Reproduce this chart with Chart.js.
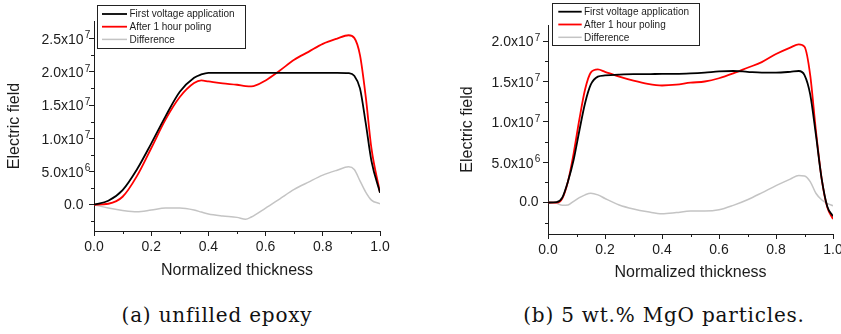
<!DOCTYPE html>
<html>
<head>
<meta charset="utf-8">
<script src="https://cdn.jsdelivr.net/npm/chart.js@4.4.1/dist/chart.umd.min.js"></script>
<style>
  body { margin: 0; background: #fff; width: 841px; height: 334px; position: relative; overflow: hidden; }
  canvas { position: absolute; top: 0; }
  .caption { position: absolute; top: 305px; font: 20px "DejaVu Serif", serif; letter-spacing: 0.8px; color: #111; text-align: center; white-space: nowrap; line-height: 20px; }
</style>
</head>
<body>
<canvas id="chartA" width="420" height="290" style="left:0"></canvas>
<canvas id="chartB" width="421" height="290" style="left:420px"></canvas>
<div class="caption" style="left:0;width:434px">(a) unfilled epoxy</div>
<div class="caption" style="left:487px;width:354px">(b) 5 wt.% MgO particles.</div>
<script>
// (a) unfilled epoxy
var xA = [0, 0.05, 0.1, 0.15, 0.2, 0.25, 0.3, 0.35, 0.375, 0.4, 0.45, 0.5, 0.53, 0.55, 0.6, 0.65, 0.7, 0.75, 0.8, 0.85, 0.89, 0.91, 0.93, 0.95, 0.97, 1.0];
var firstA = [0, 0.6e6, 2.2e6, 5.3e6, 9.2e6, 13.3e6, 17.0e6, 19.1e6, 19.6e6, 19.85e6,
  19.85e6, 19.85e6, 19.85e6, 19.85e6, 19.85e6, 19.85e6, 19.85e6, 19.85e6, 19.85e6, 19.85e6,
  19.8e6, 19.4e6, 17.5e6, 12.3e6, 6.6e6, 1.8e6];
var poledA = [0, 0.15e6, 1.2e6, 4.3e6, 8.5e6, 12.8e6, 16.2e6, 18.3e6, 18.7e6, 18.55e6,
  18.25e6, 18.05e6, 17.85e6, 17.8e6, 18.7e6, 20.2e6, 21.8e6, 23.0e6, 24.2e6, 25.0e6,
  25.5e6, 25.1e6, 22.5e6, 16.3e6, 8.5e6, 1.85e6];
var diffA = [0, -0.5e6, -0.85e6, -1.05e6, -0.8e6, -0.5e6, -0.5e6, -0.8e6, -1.1e6, -1.4e6,
  -1.7e6, -1.9e6, -2.2e6, -1.85e6, -0.5e6, 0.9e6, 2.3e6, 3.4e6, 4.45e6, 5.2e6,
  5.7e6, 5.3e6, 3.6e6, 1.9e6, 0.7e6, 0.15e6];
var yTicksA = [0, 5e6, 1e7, 1.5e7, 2e7, 2.5e7];
var yMinorA = [-2.5e6, 2.5e6, 7.5e6, 1.25e7, 1.75e7, 2.25e7];

// (b) 5 wt.% MgO
var xB = [0, 0.03, 0.05, 0.07, 0.09, 0.11, 0.13, 0.15, 0.175, 0.2,
  0.25, 0.3, 0.35, 0.4, 0.45, 0.5, 0.55, 0.6, 0.65, 0.7, 0.75, 0.8, 0.85,
  0.88, 0.9, 0.92, 0.94, 0.96, 0.98, 1.0];
var firstB = [0, 0.05e6, 0.6e6, 2.6e6, 5.3e6, 8.9e6, 12.3e6, 14.6e6, 15.6e6, 15.75e6,
  15.85e6, 15.9e6, 15.9e6, 15.95e6, 15.95e6, 16.0e6, 16.1e6, 16.25e6, 16.3e6, 16.2e6, 16.1e6, 16.1e6, 16.2e6,
  16.3e6, 15.8e6, 13.4e6, 8.4e6, 3.0e6, -0.5e6, -1.7e6];
var poledB = [0, 0, 0.5e6, 2.6e6, 6.1e6, 10.3e6, 14.0e6, 16.1e6, 16.5e6, 16.2e6,
  15.6e6, 15.1e6, 14.7e6, 14.5e6, 14.6e6, 14.85e6, 15.0e6, 15.4e6, 16.0e6, 16.7e6, 17.4e6, 18.4e6, 19.2e6,
  19.6e6, 19.3e6, 15.8e6, 8.9e6, 3.0e6, -0.6e6, -2.05e6];
var diffB = [0, -0.1e6, -0.35e6, -0.3e6, 0.15e6, 0.6e6, 0.95e6, 1.15e6, 0.95e6, 0.5e6,
  -0.3e6, -0.8e6, -1.15e6, -1.4e6, -1.25e6, -1.05e6, -1.05e6, -0.9e6, -0.35e6, 0.35e6, 1.2e6, 2.1e6, 2.9e6,
  3.35e6, 3.3e6, 2.6e6, 1.15e6, 0.35e6, -0.1e6, -0.4e6];
var yTicksB = [0, 5e6, 1e7, 1.5e7, 2e7];
var yMinorB = [-2.5e6, 2.5e6, 7.5e6, 1.25e7, 1.75e7];

var xTicks = [0, 0.2, 0.4, 0.6, 0.8, 1.0];
var xMinor = [0.1, 0.3, 0.5, 0.7, 0.9];
var seriesNames = ['First voltage application', 'After 1 hour poling', 'Difference'];

var FONT = '"Liberation Sans", Arial, sans-serif';
var INK = '#1c1c1c';

// y labels like 2.5x10^7 with a raised exponent
var sciLabels = {
  id: 'sciLabels',
  afterDraw: function(chart, args, o) {
    var ctx = chart.ctx, ys = chart.scales.y;
    var right = chart.chartArea.left - o.gap;
    ctx.save();
    ctx.fillStyle = INK;
    ctx.textBaseline = 'middle';
    ys.ticks.forEach(function(t) {
      var py = ys.getPixelForValue(t.value);
      ctx.font = '14px ' + FONT;
      ctx.textAlign = 'right';
      if (t.value === 0) {
        ctx.fillText('0.0', right + o.zeroShift, py);
        return;
      }
      var exp = Math.floor(Math.log10(Math.abs(t.value)));
      var mant = (t.value / Math.pow(10, exp)).toFixed(1);
      ctx.fillText(mant + 'x10', right, py + 1.5);
      ctx.font = '10px ' + FONT;
      ctx.textAlign = 'left';
      ctx.fillText(String(exp), right + 1.2, py - 3);
    });
    ctx.restore();
  }
};

// short unlabelled ticks between the major ones
var minorTicks = {
  id: 'minorTicks',
  afterDraw: function(chart, args, o) {
    var ctx = chart.ctx, a = chart.chartArea;
    ctx.save();
    ctx.strokeStyle = INK;
    ctx.lineWidth = 1;
    ctx.beginPath();
    o.x.forEach(function(v) {
      var px = Math.round(chart.scales.x.getPixelForValue(v)) + 0.5;
      ctx.moveTo(px, a.bottom);
      ctx.lineTo(px, a.bottom + 3);
    });
    o.y.forEach(function(v) {
      var py = Math.round(chart.scales.y.getPixelForValue(v)) + 0.5;
      ctx.moveTo(a.left - 3, py);
      ctx.lineTo(a.left, py);
    });
    ctx.stroke();
    ctx.restore();
  }
};

// framed legend inside the plot
var boxLegend = {
  id: 'boxLegend',
  afterDraw: function(chart, args, o) {
    var ctx = chart.ctx;
    ctx.save();
    ctx.fillStyle = '#fff';
    ctx.fillRect(o.left, o.top, o.width, o.height);
    ctx.strokeStyle = '#222';
    ctx.lineWidth = 1;
    ctx.strokeRect(o.left + 0.5, o.top + 0.5, o.width, o.height);
    ctx.font = '10px ' + FONT;
    ctx.textBaseline = 'middle';
    ctx.textAlign = 'left';
    chart.data.datasets.forEach(function(ds, i) {
      var yy = o.top + o.firstRow + i * o.rowH;
      ctx.strokeStyle = ds.borderColor;
      ctx.lineWidth = ds.borderWidth;
      ctx.beginPath();
      ctx.moveTo(o.left + o.lineStart, yy);
      ctx.lineTo(o.left + o.lineStart + o.lineLen, yy);
      ctx.stroke();
      ctx.fillStyle = INK;
      ctx.fillText(ds.label, o.left + o.textStart, yy + 0.5);
    });
    ctx.restore();
  }
};

function points(xs, ys) {
  return xs.map(function(x, i) { return { x: x, y: ys[i] }; });
}

function makePanel(id, xs, first, poled, diff, p) {
  var line = function(label, data, color, w) {
    return { label: label, data: points(xs, data), borderColor: color, borderWidth: w,
      pointRadius: 0, fill: false, cubicInterpolationMode: 'monotone' };
  };
  return new Chart(document.getElementById(id), {
    type: 'line',
    data: {
      datasets: [
        line(seriesNames[0], first, '#000000', 1.8),
        line(seriesNames[1], poled, '#ff0000', 1.8),
        line(seriesNames[2], diff, '#c4c4c4', 1.5)
      ]
    },
    options: {
      responsive: false,
      animation: false,
      devicePixelRatio: 1,
      layout: { padding: { left: 0, top: p.top, right: p.right, bottom: 0 } },
      scales: {
        x: {
          type: 'linear', min: 0, max: 1,
          afterBuildTicks: function(s) { s.ticks = xTicks.map(function(v) { return { value: v }; }); },
          afterFit: function(s) { s.height = p.xHeight; s.paddingLeft = 0; s.paddingRight = 0; },
          ticks: { callback: function(v) { return v.toFixed(1); }, font: { family: FONT, size: 14 },
            color: INK, padding: 3, maxRotation: 0, autoSkip: false },
          grid: { drawOnChartArea: false, tickLength: 5, color: INK },
          border: { color: INK, width: 1 },
          title: { display: true, text: 'Normalized thickness', color: INK,
            font: { family: FONT, size: 16 }, padding: { top: 0, bottom: p.xTitlePad } }
        },
        y: {
          type: 'linear', min: p.yMin, max: p.yMax,
          afterBuildTicks: function(s) { s.ticks = p.yTicks.map(function(v) { return { value: v }; }); },
          afterFit: function(s) { s.width = p.yWidth; s.paddingTop = 0; s.paddingBottom = 0; },
          ticks: { callback: function() { return ''; } },
          grid: { drawOnChartArea: false, tickLength: 5, color: INK },
          border: { color: INK, width: 1 },
          title: { display: true, text: 'Electric field', color: INK,
            font: { family: FONT, size: 16 }, padding: { top: p.yTitlePad, bottom: 0 } }
        }
      },
      plugins: {
        legend: { display: false },
        tooltip: { enabled: false },
        sciLabels: p.labels,
        minorTicks: { x: xMinor, y: p.yMinor },
        boxLegend: p.legend
      }
    },
    plugins: [minorTicks, sciLabels, boxLegend]
  });
}

makePanel('chartA', xA, firstA, poledA, diffA, {
  top: 21, right: 40, xHeight: 59, yWidth: 94, xTitlePad: 10, yTitlePad: 5,
  yMin: -3.95e6, yMax: 2.764e7, yTicks: yTicksA, yMinor: yMinorA,
  labels: { gap: 10.5, zeroShift: 0 },
  legend: { left: 97, top: 5, width: 148, height: 43, firstRow: 9, rowH: 12.7, lineStart: 5, lineLen: 25, textStart: 32.5 }
});

makePanel('chartB', xB, firstB, poledB, diffB, {
  top: 25, right: 8, xHeight: 56, yWidth: 128, xTitlePad: 8, yTitlePad: 38,
  yMin: -3.9e6, yMax: 2.2e7, yTicks: yTicksB, yMinor: yMinorB,
  labels: { gap: 14.4, zeroShift: 5 },
  legend: { left: 132, top: 3, width: 147, height: 42, firstRow: 8.7, rowH: 12.8, lineStart: 6.3, lineLen: 23.4, textStart: 32 }
});
</script>
</body>
</html>
